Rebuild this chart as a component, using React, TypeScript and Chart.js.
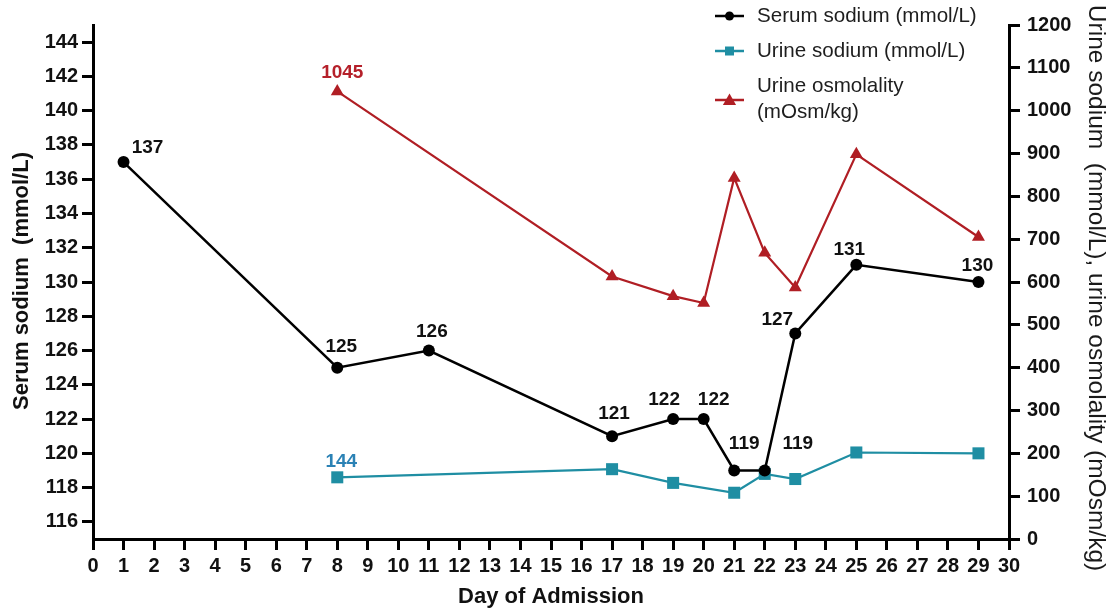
import React, { useEffect, useRef } from 'react';
import { Chart, registerables } from 'chart.js';

Chart.register(...registerables);

// ---- data ----
const serumDays = [1, 8, 11, 17, 19, 20, 21, 22, 23, 25, 29];
const serumSodium = [137, 125, 126, 121, 122, 122, 119, 119, 127, 131, 130];

const urineNaDays = [8, 17, 19, 21, 22, 23, 25, 29];
const urineSodium = [144, 163, 131, 108, 152, 140, 202, 200];

const osmDays = [8, 17, 19, 20, 21, 22, 23, 25, 29];
const urineOsmolality = [1045, 613, 567, 551, 843, 668, 587, 898, 705];

const dayTicks = [0, 1, 2, 3, 4, 5, 6, 7, 8, 9, 10, 11, 12, 13, 14, 15, 16, 17, 18, 19, 20, 21, 22, 23, 24, 25, 26, 27, 28, 29, 30];
const serumTicks = [116, 118, 120, 122, 124, 126, 128, 130, 132, 134, 136, 138, 140, 142, 144];
const urineTicks = [0, 100, 200, 300, 400, 500, 600, 700, 800, 900, 1000, 1100, 1200];

const seriesNames = ['Serum sodium (mmol/L)', 'Urine sodium (mmol/L)', 'Urine osmolality', '(mOsm/kg)'];
const xTitle = 'Day of Admission';
const leftTitle = 'Serum sodium  (mmol/L)';
const rightTitle = 'Urine sodium  (mmol/L), urine osmolality (mOsm/kg)';

// ---- styles ----
const BLACK = '#000000';
const TEAL = '#1f8ea3';
const RED = '#b01e24';
const FONT = '"Liberation Sans", Arial, Helvetica, sans-serif';

// label offsets (pixels) relative to each serum point
const serumLabelOffsets: [number, number][] = [
  [24, -14], [4, -21], [3, -19], [2, -22], [-9, -19], [10, -19],
  [10, -27], [33, -27], [-18, -14], [-7, -15], [-1, -16],
];

function toPoints(xs: number[], ys: number[]) {
  return xs.map((x, i) => ({ x, y: ys[i] }));
}

function drawMarker(ctx: CanvasRenderingContext2D, style: string, x: number, y: number, color: string, s: number) {
  ctx.fillStyle = color;
  ctx.beginPath();
  if (style === 'circle') {
    ctx.arc(x, y, s * 0.5, 0, Math.PI * 2);
  } else if (style === 'rect') {
    ctx.rect(x - s / 2, y - s / 2, s, s);
  } else {
    ctx.moveTo(x, y - s * 0.6);
    ctx.lineTo(x + s * 0.6, y + s * 0.45);
    ctx.lineTo(x - s * 0.6, y + s * 0.45);
    ctx.closePath();
  }
  ctx.fill();
}

const annotationPlugin = {
  id: 'annotations',
  afterDatasetsDraw(chart: any) {
    const ctx: CanvasRenderingContext2D = chart.ctx;
    ctx.save();
    ctx.font = `bold 19px ${FONT}`;
    ctx.textAlign = 'center';
    ctx.textBaseline = 'middle';
    const m0 = chart.getDatasetMeta(0);
    m0.data.forEach((pt: any, i: number) => {
      const [dx, dy] = serumLabelOffsets[i];
      ctx.fillStyle = '#111111';
      ctx.fillText(String(serumSodium[i]), pt.x + dx, pt.y + dy);
    });
    const m1 = chart.getDatasetMeta(1);
    const p1 = m1.data[0];
    ctx.fillStyle = '#2b82b5';
    ctx.fillText(String(urineSodium[0]), p1.x + 4, p1.y - 16);
    const m2 = chart.getDatasetMeta(2);
    const p2 = m2.data[0];
    ctx.fillStyle = '#b5202a';
    ctx.fillText(String(urineOsmolality[0]), p2.x + 5, p2.y - 19);
    ctx.restore();
  },
  afterDraw(chart: any) {
    const ctx: CanvasRenderingContext2D = chart.ctx;
    const area = chart.chartArea;
    ctx.save();
    // axis titles
    ctx.fillStyle = '#111111';
    ctx.textAlign = 'center';
    ctx.textBaseline = 'middle';
    ctx.font = `bold 22px ${FONT}`;
    ctx.fillText(xTitle, (area.left + area.right) / 2, 597);

    ctx.save();
    ctx.translate(22, 281);
    ctx.rotate(-Math.PI / 2);
    ctx.font = `bold 22px ${FONT}`;
    ctx.fillText(leftTitle, 0, 0);
    ctx.restore();

    ctx.save();
    ctx.translate(1096, 288);
    ctx.rotate(Math.PI / 2);
    ctx.font = `24.5px ${FONT}`;
    ctx.fillStyle = '#1a1a1a';
    ctx.fillText(rightTitle, 0, 0);
    ctx.restore();

    // legend
    const items = [
      { color: BLACK, style: 'circle', y: 16, size: 9, lines: [seriesNames[0]], ty: [16] },
      { color: TEAL, style: 'rect', y: 51, size: 9, lines: [seriesNames[1]], ty: [51] },
      { color: RED, style: 'triangle', y: 100, size: 11, lines: [seriesNames[2], seriesNames[3]], ty: [86, 112] },
    ];
    ctx.font = `20.6px ${FONT}`;
    ctx.textAlign = 'left';
    items.forEach((it) => {
      ctx.strokeStyle = it.color;
      ctx.lineWidth = 2.5;
      ctx.beginPath();
      ctx.moveTo(715, it.y);
      ctx.lineTo(744, it.y);
      ctx.stroke();
      drawMarker(ctx, it.style, 729.5, it.y, it.color, it.size);
      ctx.fillStyle = '#1e1e1e';
      it.lines.forEach((t, k) => ctx.fillText(t, 757, it.ty[k]));
    });
    ctx.restore();
  },
};

export default function App() {
  const canvasRef = useRef<HTMLCanvasElement | null>(null);

  useEffect(() => {
    if (!canvasRef.current) return;
    const tickFont = { family: FONT, size: 20, weight: 'bold' as const };
    const axisCommon = (tl: number) => ({
      border: { display: true, color: '#000', width: 3 },
      grid: { display: true, drawOnChartArea: false, drawTicks: true, tickLength: tl, color: '#000', lineWidth: 3 },
    });
    const plain = (v: any) => String(v);
    const chart = new Chart(canvasRef.current, {
      type: 'line',
      data: {
        datasets: [
          {
            label: seriesNames[0],
            data: toPoints(serumDays, serumSodium),
            yAxisID: 'y',
            borderColor: BLACK,
            backgroundColor: BLACK,
            borderWidth: 2.5,
            pointStyle: 'circle',
            pointRadius: 6,
            pointBorderWidth: 0,
            tension: 0,
          },
          {
            label: seriesNames[1],
            data: toPoints(urineNaDays, urineSodium),
            yAxisID: 'y1',
            borderColor: TEAL,
            backgroundColor: TEAL,
            borderWidth: 2.2,
            pointStyle: 'rect',
            pointRadius: 8.5,
            pointBorderWidth: 0,
            tension: 0,
          },
          {
            label: seriesNames[2],
            data: toPoints(osmDays, urineOsmolality),
            yAxisID: 'y1',
            borderColor: RED,
            backgroundColor: RED,
            borderWidth: 2.2,
            pointStyle: 'triangle',
            pointRadius: 7.5,
            pointBorderWidth: 0,
            tension: 0,
          },
        ],
      },
      options: {
        responsive: false,
        animation: false,
        layout: { padding: { top: 25, left: 0, right: 0, bottom: 0 } },
        plugins: { legend: { display: false }, tooltip: { enabled: false } },
        scales: {
          x: {
            type: 'linear',
            position: 'bottom',
            min: 0,
            max: 30,
            ...axisCommon(11),
            afterBuildTicks: (s: any) => { s.ticks = dayTicks.map((v) => ({ value: v })); },
            afterFit: (s: any) => { s.height = 73; },
            ticks: { font: tickFont, color: '#111', padding: 4, autoSkip: false, maxRotation: 0, callback: plain },
          },
          y: {
            type: 'linear',
            position: 'left',
            min: 115,
            max: 145,
            ...axisCommon(11),
            afterBuildTicks: (s: any) => { s.ticks = serumTicks.map((v) => ({ value: v })); },
            afterFit: (s: any) => { s.width = 93; },
            ticks: { font: tickFont, color: '#111', padding: 4, callback: plain },
          },
          y1: {
            type: 'linear',
            position: 'right',
            min: 0,
            max: 1200,
            ...axisCommon(11),
            afterBuildTicks: (s: any) => { s.ticks = urineTicks.map((v) => ({ value: v })); },
            afterFit: (s: any) => { s.width = 101; },
            ticks: { font: tickFont, color: '#111', padding: 7, callback: plain },
          },
        },
      },
      plugins: [annotationPlugin],
    } as any);
    return () => chart.destroy();
  }, []);

  return (
    <div style={{ position: 'fixed', left: 0, top: 0, width: 1110, height: 612, background: '#fff' }}>
      <canvas ref={canvasRef} width={1110} height={612} style={{ width: 1110, height: 612, display: 'block' }} />
    </div>
  );
}
